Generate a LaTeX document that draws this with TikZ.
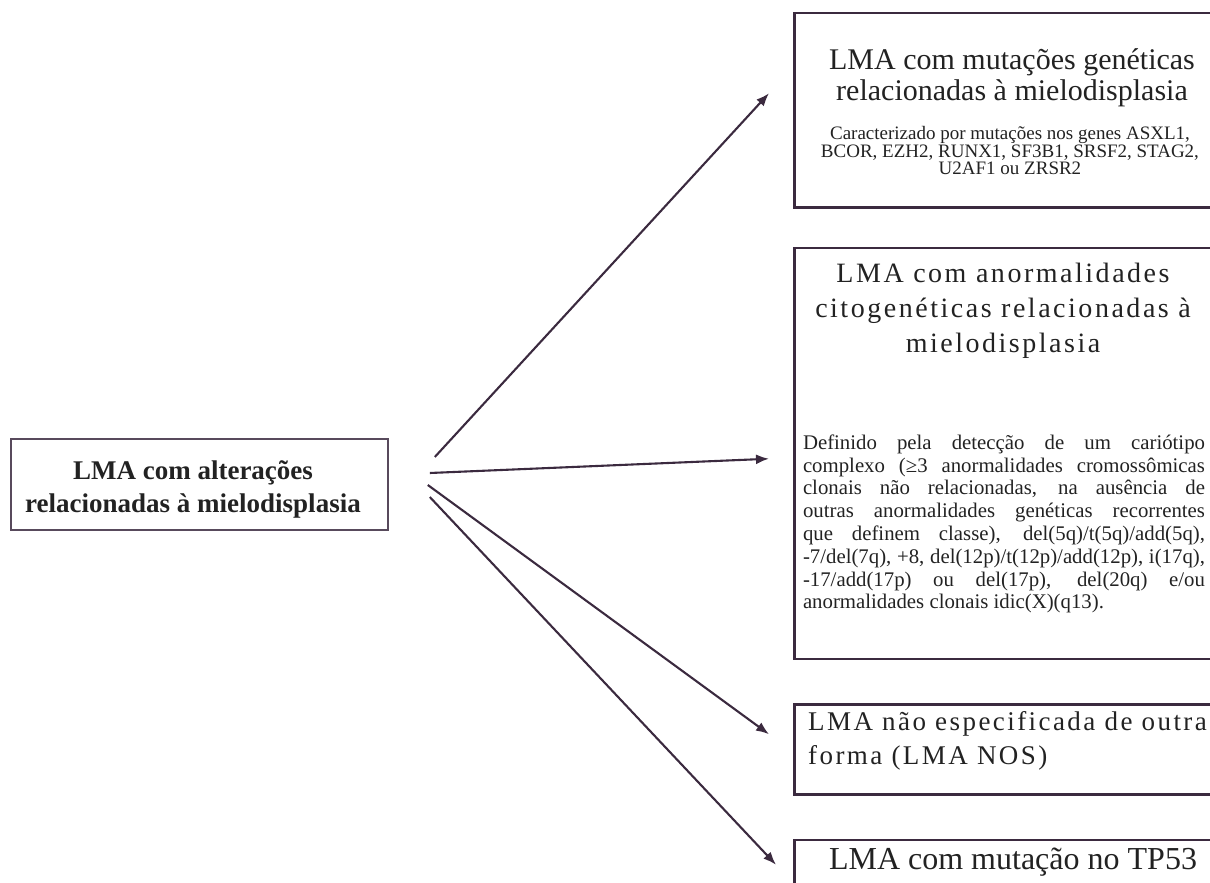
\documentclass[tikz,border=0pt]{standalone}
\usepackage{fontspec}
\setmainfont{Liberation Serif}
\usetikzlibrary{positioning,arrows.meta}
\definecolor{ink}{HTML}{3B2A3F}
\definecolor{txt}{HTML}{222222}
\newcommand{\spaced}[1]{\addfontfeature{LetterSpace=#1}}
\tikzset{
  every node/.style={text=txt},
  box/.style={draw=ink, line width=2.5pt, minimum width=436pt, inner sep=0pt},
  link/.style={draw=ink, line width=2.1pt, -{Latex[length=13pt,width=10pt]}}
}

\begin{document}
\begin{tikzpicture}[x=1pt,y=-1pt]
  \useasboundingbox (0,0) rectangle (1210,883);
  \clip (0,0) rectangle (1210,883);
  % caixa de origem
  \node[box, line width=1.6pt, draw=ink!85, minimum width=377pt, minimum height=91pt] (lma) at (199.5,484.5) {};
  \node[align=center, font=\fontsize{27}{33}\selectfont\bfseries] (lmaT) at (193,489.5)
    {LMA com alterações\\relacionadas à mielodisplasia};
  % caixas da direita
  \node[box, minimum height=194pt, anchor=north west] (gen) at (793,12) {};
  \node[box, minimum height=411pt, below=38pt of gen] (cyto) {};
  \node[box, minimum height=90pt, below=43pt of cyto] (nos) {};
  \node[box, minimum height=70pt, below=43pt of nos] (tp) {};
  % textos
  \node[align=center, font=\fontsize{30}{31}\selectfont] (genT) at (1012,78)
    {LMA com mutações genéticas\\relacionadas à mielodisplasia};
  \node[align=center, font=\fontsize{19}{17.5}\selectfont] (genS) at (1010,151)
    {Caracterizado por mutações nos genes ASXL1,\\BCOR, EZH2, RUNX1, SF3B1, SRSF2, STAG2,\\U2AF1 ou ZRSR2};
  \node[align=center, font=\fontsize{28}{35}\selectfont\spaced{9}] (cytoT) at (1003,311)
    {LMA com anormalidades\\citogenéticas relacionadas à\\mielodisplasia};
  \node[text width=402pt, align=justify, inner sep=0pt,
    font=\fontsize{20.8}{22.8}\selectfont] (cytoP) at (1004,524)
    {Definido pela detecção de um cariótipo\linebreak
     complexo (≥3 anormalidades cromossômicas\linebreak
     clonais não relacionadas, na ausência de\linebreak
     outras anormalidades genéticas recorrentes\linebreak
     que definem classe), del(5q)/t(5q)/add(5q),\linebreak
     -7/del(7q), +8, del(12p)/t(12p)/add(12p), i(17q),\linebreak
     -17/add(17p) ou del(17p), del(20q) e/ou\linebreak
     anormalidades clonais idic(X)(q13).};
  \node[align=left, anchor=west, inner sep=0pt,
    font=\fontsize{27}{34.5}\selectfont\spaced{9}] (nosT) at (808,741)
    {LMA não especificada de outra\\forma (LMA NOS)};
  \node[anchor=base, font=\fontsize{32}{32}\selectfont] (tpT) at (1013,869)
    {LMA com mutação no TP53};
  % setas
  \draw[link] ([shift={(46,-27.5)}]lma.east) -- ([shift={(-24,-17)}]gen.west);
  \draw[link] ([shift={(41,-11.5)}]lma.east) -- ([shift={(-24,5.5)}]cyto.west);
  \draw[link] ([shift={(39,0.5)}]lma.east) -- ([shift={(-24,-15)}]nos.west);
  \draw[link] ([shift={(41,12.5)}]lma.east) -- ([shift={(-17,-10)}]tp.west);
\end{tikzpicture}
\end{document}
